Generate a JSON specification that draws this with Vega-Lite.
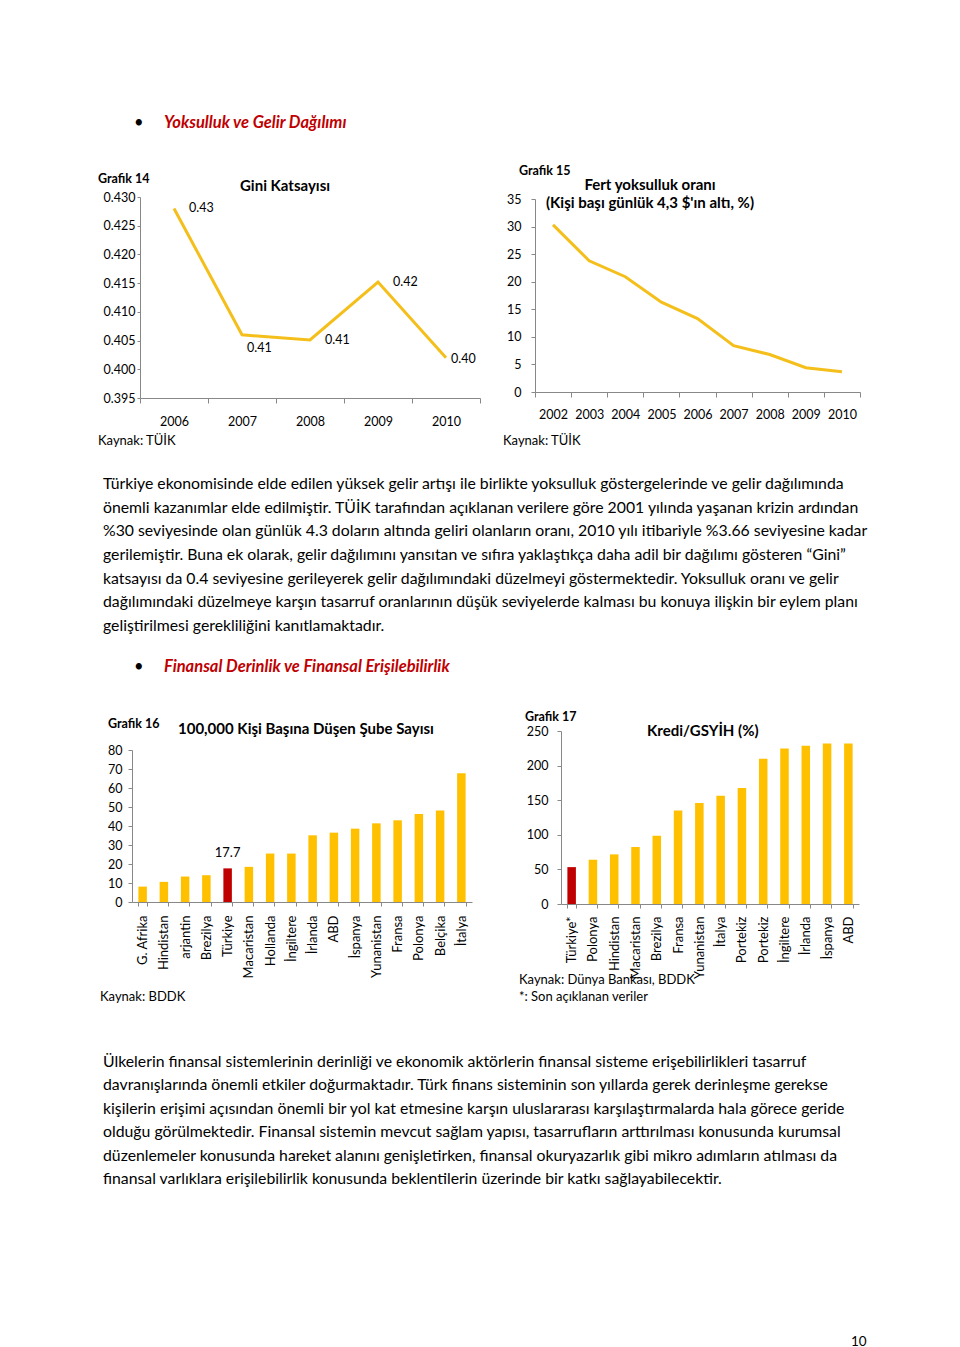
{
  "$schema": "https://vega.github.io/schema/vega-lite/v6.json",
  "padding": 0,
  "bounds": "flush",
  "spacing": 0,
  "config": {
    "view": {"stroke": null},
    "font": "Lato",
    "concat": {"spacing": 0},
    "axis": {"grid": false, "domainColor": "#888888", "tickColor": "#888888", "labelColor": "#000000", "labelFont": "Lato", "title": null},
    "title": {"font": "Lato", "color": "#000000", "orient": "bottom", "anchor": "start", "offset": 0, "fontWeight": "normal"}
  },
  "datasets": {
    "gini": [
      {"year": "2006", "gini": 0.428},
      {"year": "2007", "gini": 0.406},
      {"year": "2008", "gini": 0.4051},
      {"year": "2009", "gini": 0.4152},
      {"year": "2010", "gini": 0.402}
    ],
    "poverty": [
      {"year": "2002", "rate": 30.3},
      {"year": "2003", "rate": 23.8},
      {"year": "2004", "rate": 20.9},
      {"year": "2005", "rate": 16.3},
      {"year": "2006", "rate": 13.3},
      {"year": "2007", "rate": 8.4},
      {"year": "2008", "rate": 6.8},
      {"year": "2009", "rate": 4.4},
      {"year": "2010", "rate": 3.66}
    ],
    "branches": [
      {"country": "G. Afrika", "value": 8.1},
      {"country": "Hindistan", "value": 10.6},
      {"country": "arjantin", "value": 13.4},
      {"country": "Brezilya", "value": 14.1},
      {"country": "Türkiye", "value": 17.7},
      {"country": "Macaristan", "value": 18.5},
      {"country": "Hollanda", "value": 25.5},
      {"country": "İngiltere", "value": 25.5},
      {"country": "İrlanda", "value": 35.1},
      {"country": "ABD", "value": 36.5},
      {"country": "İspanya", "value": 38.6},
      {"country": "Yunanistan", "value": 41.4},
      {"country": "Fransa", "value": 43.0},
      {"country": "Polonya", "value": 46.3},
      {"country": "Belçika", "value": 48.1},
      {"country": "İtalya", "value": 67.8}
    ],
    "credit": [
      {"country": "Türkiye*", "value": 53.3},
      {"country": "Polonya", "value": 64.0},
      {"country": "Hindistan", "value": 71.7},
      {"country": "Macaristan", "value": 82.4},
      {"country": "Brezilya", "value": 98.8},
      {"country": "Fransa", "value": 135.0},
      {"country": "Yunanistan", "value": 145.8},
      {"country": "İtalya", "value": 156.5},
      {"country": "Portekiz", "value": 167.6},
      {"country": "Portekiz\u200b", "value": 209.8},
      {"country": "İngiltere", "value": 224.8},
      {"country": "İrlanda", "value": 228.7},
      {"country": "İspanya", "value": 232.0},
      {"country": "ABD", "value": 232.0}
    ]
  },
  "vconcat": [
    {"bounds": "flush", "spacing": 0, "vconcat": [
      {"width": 1, "height": 110, "data": {"values": []}, "mark": "point"},
      {"bounds": "flush", "spacing": 0, "hconcat": [
        {"width": 134, "height": 1, "data": {"values": []}, "mark": "point"},
        {"width": 1, "height": 1, "data": {"values": []}, "mark": "point", "title": {"text": "•", "fontSize": 16.5}},
        {"width": 29, "height": 1, "data": {"values": []}, "mark": "point"},
        {"width": 1, "height": 1, "data": {"values": []}, "mark": "point", "title": {"text": "Yoksulluk ve Gelir Dağılımı", "fontSize": 16.5, "fontWeight": "bold", "fontStyle": "italic", "color": "#C00000"}}
      ]}
    ]},
    {"bounds": "flush", "spacing": 0, "vconcat": [
      {"width": 1, "height": 168, "data": {"values": []}, "mark": "point"},
      {"bounds": "flush", "spacing": 0, "hconcat": [
        {"width": 98, "height": 1, "data": {"values": []}, "mark": "point"},
        {"width": 1, "height": 1, "data": {"values": []}, "mark": "point", "title": {"text": "Grafik 14", "fontSize": 12.5, "fontWeight": "bold"}}
      ]}
    ]},
    {"bounds": "flush", "spacing": 0, "vconcat": [
      {"width": 1, "height": 174, "data": {"values": []}, "mark": "point"},
      {"bounds": "flush", "spacing": 0, "hconcat": [
        {"width": 240, "height": 1, "data": {"values": []}, "mark": "point"},
        {"width": 1, "height": 1, "data": {"values": []}, "mark": "point", "title": {"text": "Gini Katsayısı", "fontSize": 15, "fontWeight": "bold"}}
      ]}
    ]},
    {"bounds": "flush", "spacing": 0, "vconcat": [
      {"width": 1, "height": 160, "data": {"values": []}, "mark": "point"},
      {"bounds": "flush", "spacing": 0, "hconcat": [
        {"width": 519, "height": 1, "data": {"values": []}, "mark": "point"},
        {"width": 1, "height": 1, "data": {"values": []}, "mark": "point", "title": {"text": "Grafik 15", "fontSize": 12.5, "fontWeight": "bold"}}
      ]}
    ]},
    {"bounds": "flush", "spacing": 0, "vconcat": [
      {"width": 1, "height": 173, "data": {"values": []}, "mark": "point"},
      {"bounds": "flush", "spacing": 0, "hconcat": [
        {"width": 600, "height": 1, "data": {"values": []}, "mark": "point"},
        {"width": 100, "height": 1, "data": {"values": []}, "mark": "point", "title": {"text": ["Fert yoksulluk oranı", "(Kişi başı günlük 4,3 $'ın altı, %)"], "anchor": "middle", "fontSize": 15, "fontWeight": "bold", "lineHeight": 18}}
      ]}
    ]},
    {"bounds": "flush", "spacing": 0, "vconcat": [
      {"width": 1, "height": 430, "data": {"values": []}, "mark": "point"},
      {"bounds": "flush", "spacing": 0, "hconcat": [
        {"width": 98, "height": 1, "data": {"values": []}, "mark": "point"},
        {"width": 1, "height": 1, "data": {"values": []}, "mark": "point", "title": {"text": "Kaynak: TÜİK", "fontSize": 13}},
        {"width": 404, "height": 1, "data": {"values": []}, "mark": "point"},
        {"width": 1, "height": 1, "data": {"values": []}, "mark": "point", "title": {"text": "Kaynak: TÜİK", "fontSize": 13}}
      ]}
    ]},
    {"bounds": "flush", "spacing": 0, "vconcat": [
      {"width": 1, "height": 197, "data": {"values": []}, "mark": "point"},
      {"bounds": "flush", "spacing": 0, "hconcat": [
        {"width": 140, "height": 1, "data": {"values": []}, "mark": "point"},
        {
          "width": 340,
          "height": 201,
          "data": {"name": "gini"},
          "encoding": {
            "x": {"field": "year", "type": "ordinal", "sort": null,
                  "scale": {"type": "band", "paddingInner": 0, "paddingOuter": 0},
                  "axis": {"labelAngle": 0, "tickBand": "extent", "tickSize": 5, "labelPadding": 12, "labelFontSize": 12.5}},
            "y": {"field": "gini", "type": "quantitative",
                  "scale": {"domain": [0.395, 0.43], "zero": false, "nice": false},
                  "axis": {"values": [0.395, 0.4, 0.405, 0.41, 0.415, 0.42, 0.425, 0.43], "format": ".3f", "tickSize": 3, "labelPadding": 2, "labelFontSize": 12.5}}
          },
          "layer": [
            {"mark": {"type": "line", "color": "#F5BF1B", "strokeWidth": 3}},
            {"transform": [{"filter": "datum.year == '2006' || datum.year == '2008' || datum.year == '2009'"}],
             "mark": {"type": "text", "align": "left", "baseline": "middle", "dx": 15, "dy": 0, "fontSize": 12.5},
             "encoding": {"text": {"field": "gini", "type": "quantitative", "format": ".2f"}}},
            {"transform": [{"filter": "datum.year == '2007'"}],
             "mark": {"type": "text", "align": "left", "baseline": "middle", "dx": 5, "dy": 13, "fontSize": 12.5},
             "encoding": {"text": {"field": "gini", "type": "quantitative", "format": ".2f"}}},
            {"transform": [{"filter": "datum.year == '2010'"}],
             "mark": {"type": "text", "align": "left", "baseline": "middle", "dx": 5, "dy": 1, "fontSize": 12.5},
             "encoding": {"text": {"field": "gini", "type": "quantitative", "format": ".2f"}}}
          ]
        }
      ]}
    ]},
    {"bounds": "flush", "spacing": 0, "vconcat": [
      {"width": 1, "height": 199, "data": {"values": []}, "mark": "point"},
      {"bounds": "flush", "spacing": 0, "hconcat": [
        {"width": 535, "height": 1, "data": {"values": []}, "mark": "point"},
        {
          "width": 325,
          "height": 193,
          "data": {"name": "poverty"},
          "mark": {"type": "line", "color": "#F5BF1B", "strokeWidth": 3},
          "encoding": {
            "x": {"field": "year", "type": "ordinal", "sort": null,
                  "scale": {"type": "band", "paddingInner": 0, "paddingOuter": 0},
                  "axis": {"labelAngle": 0, "tickBand": "extent", "tickSize": 5, "labelPadding": 11, "labelFontSize": 12.5}},
            "y": {"field": "rate", "type": "quantitative",
                  "scale": {"domain": [0, 35], "nice": false},
                  "axis": {"values": [0, 5, 10, 15, 20, 25, 30, 35], "tickSize": 4, "labelPadding": 10, "labelFontSize": 12.5}}
          }
        }
      ]}
    ]},
    {"bounds": "flush", "spacing": 0, "vconcat": [
      {"width": 1, "height": 472, "data": {"values": []}, "mark": "point"},
      {"bounds": "flush", "spacing": 0, "hconcat": [
        {"width": 103, "height": 1, "data": {"values": []}, "mark": "point"},
        {"width": 1, "height": 1, "data": {"values": []}, "mark": "point", "title": {
          "text": [
            "Türkiye ekonomisinde elde edilen yüksek gelir artışı ile birlikte yoksulluk göstergelerinde ve gelir dağılımında",
            "önemli kazanımlar elde edilmiştir. TÜİK tarafından açıklanan verilere göre 2001 yılında yaşanan krizin ardından",
            "%30 seviyesinde olan günlük 4.3 doların altında geliri olanların oranı, 2010 yılı itibariyle %3.66 seviyesine kadar",
            "gerilemiştir. Buna ek olarak, gelir dağılımını yansıtan ve sıfıra yaklaştıkça daha adil bir dağılımı gösteren “Gini”",
            "katsayısı da 0.4 seviyesine gerileyerek gelir dağılımındaki düzelmeyi göstermektedir. Yoksulluk oranı ve gelir",
            "dağılımındaki düzelmeye karşın tasarruf oranlarının düşük seviyelerde kalması bu konuya ilişkin bir eylem planı",
            "geliştirilmesi gerekliliğini kanıtlamaktadır."
          ],
          "fontSize": 15.8, "lineHeight": 23.67}}
      ]}
    ]},
    {"bounds": "flush", "spacing": 0, "vconcat": [
      {"width": 1, "height": 654, "data": {"values": []}, "mark": "point"},
      {"bounds": "flush", "spacing": 0, "hconcat": [
        {"width": 134, "height": 1, "data": {"values": []}, "mark": "point"},
        {"width": 1, "height": 1, "data": {"values": []}, "mark": "point", "title": {"text": "•", "fontSize": 16.5}},
        {"width": 29, "height": 1, "data": {"values": []}, "mark": "point"},
        {"width": 1, "height": 1, "data": {"values": []}, "mark": "point", "title": {"text": "Finansal Derinlik ve Finansal Erişilebilirlik", "fontSize": 16.5, "fontWeight": "bold", "fontStyle": "italic", "color": "#C00000"}}
      ]}
    ]},
    {"bounds": "flush", "spacing": 0, "vconcat": [
      {"width": 1, "height": 713, "data": {"values": []}, "mark": "point"},
      {"bounds": "flush", "spacing": 0, "hconcat": [
        {"width": 108, "height": 1, "data": {"values": []}, "mark": "point"},
        {"width": 1, "height": 1, "data": {"values": []}, "mark": "point", "title": {"text": "Grafik 16", "fontSize": 12.5, "fontWeight": "bold"}}
      ]}
    ]},
    {"bounds": "flush", "spacing": 0, "vconcat": [
      {"width": 1, "height": 717, "data": {"values": []}, "mark": "point"},
      {"bounds": "flush", "spacing": 0, "hconcat": [
        {"width": 178, "height": 1, "data": {"values": []}, "mark": "point"},
        {"width": 1, "height": 1, "data": {"values": []}, "mark": "point", "title": {"text": "100,000 Kişi Başına Düşen Şube Sayısı", "fontSize": 15, "fontWeight": "bold"}}
      ]}
    ]},
    {"bounds": "flush", "spacing": 0, "vconcat": [
      {"width": 1, "height": 706, "data": {"values": []}, "mark": "point"},
      {"bounds": "flush", "spacing": 0, "hconcat": [
        {"width": 525, "height": 1, "data": {"values": []}, "mark": "point"},
        {"width": 1, "height": 1, "data": {"values": []}, "mark": "point", "title": {"text": "Grafik 17", "fontSize": 12.5, "fontWeight": "bold"}}
      ]}
    ]},
    {"bounds": "flush", "spacing": 0, "vconcat": [
      {"width": 1, "height": 719, "data": {"values": []}, "mark": "point"},
      {"bounds": "flush", "spacing": 0, "hconcat": [
        {"width": 647, "height": 1, "data": {"values": []}, "mark": "point"},
        {"width": 1, "height": 1, "data": {"values": []}, "mark": "point", "title": {"text": "Kredi/GSYİH (%)", "fontSize": 15, "fontWeight": "bold"}}
      ]}
    ]},
    {"bounds": "flush", "spacing": 0, "vconcat": [
      {"width": 1, "height": 750, "data": {"values": []}, "mark": "point"},
      {"bounds": "flush", "spacing": 0, "hconcat": [
        {"width": 132, "height": 1, "data": {"values": []}, "mark": "point"},
        {
          "width": 340,
          "height": 152,
          "data": {"name": "branches"},
          "encoding": {
            "x": {"field": "country", "type": "nominal", "sort": null,
                  "scale": {"type": "band", "paddingInner": 0.6, "paddingOuter": 0.3},
                  "axis": {"labelAngle": -90, "tickBand": "extent", "tickSize": 4, "labelPadding": 9, "labelFontSize": 13}},
            "y": {"field": "value", "type": "quantitative",
                  "scale": {"domain": [0, 80], "nice": false},
                  "axis": {"values": [0, 10, 20, 30, 40, 50, 60, 70, 80], "tickSize": 4, "labelPadding": 6, "labelFontSize": 12.5}}
          },
          "layer": [
            {"mark": {"type": "bar"},
             "encoding": {"color": {"condition": {"test": "datum.country == 'Türkiye'", "value": "#C00000"}, "value": "#FFC000"}}},
            {"transform": [{"filter": "datum.country == 'Türkiye'"}],
             "mark": {"type": "text", "baseline": "bottom", "dy": -8, "fontSize": 13},
             "encoding": {"text": {"field": "value", "type": "quantitative", "format": ".1f"}}}
          ]
        }
      ]}
    ]},
    {"bounds": "flush", "spacing": 0, "vconcat": [
      {"width": 1, "height": 731, "data": {"values": []}, "mark": "point"},
      {"bounds": "flush", "spacing": 0, "hconcat": [
        {"width": 561, "height": 1, "data": {"values": []}, "mark": "point"},
        {
          "width": 298,
          "height": 173,
          "data": {"name": "credit"},
          "mark": {"type": "bar"},
          "encoding": {
            "x": {"field": "country", "type": "nominal", "sort": null,
                  "scale": {"type": "band", "paddingInner": 0.6, "paddingOuter": 0.3},
                  "axis": {"labelAngle": -90, "tickBand": "extent", "tickSize": 4, "labelPadding": 8, "labelFontSize": 13}},
            "y": {"field": "value", "type": "quantitative",
                  "scale": {"domain": [0, 250], "nice": false},
                  "axis": {"values": [0, 50, 100, 150, 200, 250], "tickSize": 4, "labelPadding": 9, "labelFontSize": 12.5}},
            "color": {"condition": {"test": "datum.country == 'Türkiye*'", "value": "#C00000"}, "value": "#FFC000"}
          }
        }
      ]}
    ]},
    {"bounds": "flush", "spacing": 0, "vconcat": [
      {"width": 1, "height": 969, "data": {"values": []}, "mark": "point"},
      {"bounds": "flush", "spacing": 0, "hconcat": [
        {"width": 519, "height": 1, "data": {"values": []}, "mark": "point"},
        {"width": 1, "height": 1, "data": {"values": []}, "mark": "point", "title": {"text": ["Kaynak: Dünya Bankası, BDDK", "*: Son açıklanan veriler"], "fontSize": 13, "lineHeight": 17}}
      ]}
    ]},
    {"bounds": "flush", "spacing": 0, "vconcat": [
      {"width": 1, "height": 986, "data": {"values": []}, "mark": "point"},
      {"bounds": "flush", "spacing": 0, "hconcat": [
        {"width": 100, "height": 1, "data": {"values": []}, "mark": "point"},
        {"width": 1, "height": 1, "data": {"values": []}, "mark": "point", "title": {"text": "Kaynak: BDDK", "fontSize": 13}}
      ]}
    ]},
    {"bounds": "flush", "spacing": 0, "vconcat": [
      {"width": 1, "height": 1050, "data": {"values": []}, "mark": "point"},
      {"bounds": "flush", "spacing": 0, "hconcat": [
        {"width": 103, "height": 1, "data": {"values": []}, "mark": "point"},
        {"width": 1, "height": 1, "data": {"values": []}, "mark": "point", "title": {
          "text": [
            "Ülkelerin finansal sistemlerinin derinliği ve ekonomik aktörlerin finansal sisteme erişebilirlikleri tasarruf",
            "davranışlarında önemli etkiler doğurmaktadır. Türk finans sisteminin son yıllarda gerek derinleşme gerekse",
            "kişilerin erişimi açısından önemli bir yol kat etmesine karşın uluslararası karşılaştırmalarda hala görece geride",
            "olduğu görülmektedir. Finansal sistemin mevcut sağlam yapısı, tasarrufların arttırılması konusunda kurumsal",
            "düzenlemeler konusunda hareket alanını genişletirken, finansal okuryazarlık gibi mikro adımların atılması da",
            "finansal varlıklara erişilebilirlik konusunda beklentilerin üzerinde bir katkı sağlayabilecektir."
          ],
          "fontSize": 15.8, "lineHeight": 23.4}}
      ]}
    ]},
    {"bounds": "flush", "spacing": 0, "vconcat": [
      {"width": 1, "height": 1330, "data": {"values": []}, "mark": "point"},
      {"bounds": "flush", "spacing": 0, "hconcat": [
        {"width": 851, "height": 1, "data": {"values": []}, "mark": "point"},
        {"width": 1, "height": 1, "data": {"values": []}, "mark": "point", "title": {"text": "10", "fontSize": 13.5}}
      ]}
    ]},
    {"width": 960, "height": 1347, "data": {"values": []}, "mark": "point"}
  ]
}
